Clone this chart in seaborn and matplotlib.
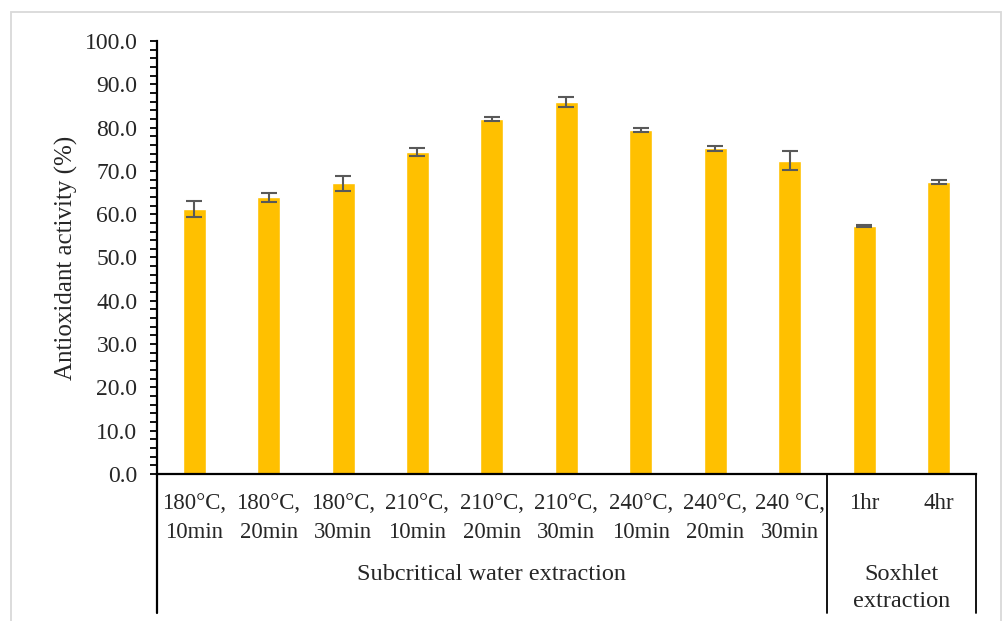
import matplotlib
matplotlib.use("Agg")
import matplotlib.pyplot as plt
import matplotlib.ticker as mticker
from matplotlib.patches import Rectangle
import seaborn as sns
import pandas as pd

# Data
conditions = ["180°C,\n10min", "180°C,\n20min", "180°C,\n30min",
              "210°C,\n10min", "210°C,\n20min", "210°C,\n30min",
              "240°C,\n10min", "240°C,\n20min", "240 °C,\n30min",
              "1hr", "4hr"]
activity = [61.2, 63.9, 67.1, 74.4, 82.0, 85.9, 79.4, 75.2, 72.4, 57.3, 67.4]
errors = [1.8, 1.1, 1.75, 0.9, 0.4, 1.1, 0.5, 0.5, 2.3, 0.3, 0.4]
groups = ["Subcritical water extraction", "Soxhlet\nextraction"]
group_sizes = [9, 2]

df = pd.DataFrame({"condition": conditions, "activity": activity})

sns.set_style("white")
plt.rcParams["font.family"] = ["Liberation Serif", "DejaVu Serif"]

fig = plt.figure(figsize=(10.06, 6.21), dpi=100)
ax = fig.add_axes([0.156, 0.2367, 0.814, 0.6973])

sns.barplot(data=df, x="condition", y="activity", color="#FFC000",
            width=0.31, saturation=1, ax=ax)
ax.errorbar(range(len(activity)), activity, yerr=errors, fmt="none",
            ecolor="#595959", elinewidth=1.5, capsize=6, capthick=1.5)

ax.set_ylim(0, 100)
ax.set_xlim(-0.5, len(conditions) - 0.5)
ax.yaxis.set_major_locator(mticker.MultipleLocator(10))
ax.yaxis.set_minor_locator(mticker.MultipleLocator(2))
ax.yaxis.set_major_formatter(mticker.FormatStrFormatter("%.1f"))
ax.tick_params(axis="y", which="both", left=True, direction="out",
               length=5, width=1.3, color="black", labelsize=17, pad=9)
ax.tick_params(axis="x", length=0, labelsize=16.5, pad=14)
for lbl in ax.get_xticklabels():
    lbl.set_linespacing(1.45)
ax.set_xlabel("")
ax.set_ylabel("Antioxidant activity (%)", fontsize=18, labelpad=5)

for side in ["top", "right"]:
    ax.spines[side].set_visible(False)
for side in ["left", "bottom"]:
    ax.spines[side].set_linewidth(1.6)
    ax.spines[side].set_color("black")

# multi-level category axis: vertical separators and group labels
line_bottom = -0.321
start = -0.5
for name, size in zip(groups, group_sizes):
    end = start + size
    ax.plot([end, end], [0, line_bottom], color="black", lw=1.3,
            transform=ax.get_xaxis_transform(), clip_on=False)
    ax.text((start + end) / 2, -0.208, name, ha="center", va="top",
            fontsize=17.5, linespacing=1.4,
            transform=ax.get_xaxis_transform())
    start = end
ax.plot([-0.5, -0.5], [0, line_bottom], color="black", lw=1.6,
        transform=ax.get_xaxis_transform(), clip_on=False)

# light chart-area border
fig.patches.append(Rectangle((0.011, -0.1), 0.984, 1.081, fill=False,
                             edgecolor="#d9d9d9", lw=1.3,
                             transform=fig.transFigure))

fig.savefig("out.png", dpi=100)
